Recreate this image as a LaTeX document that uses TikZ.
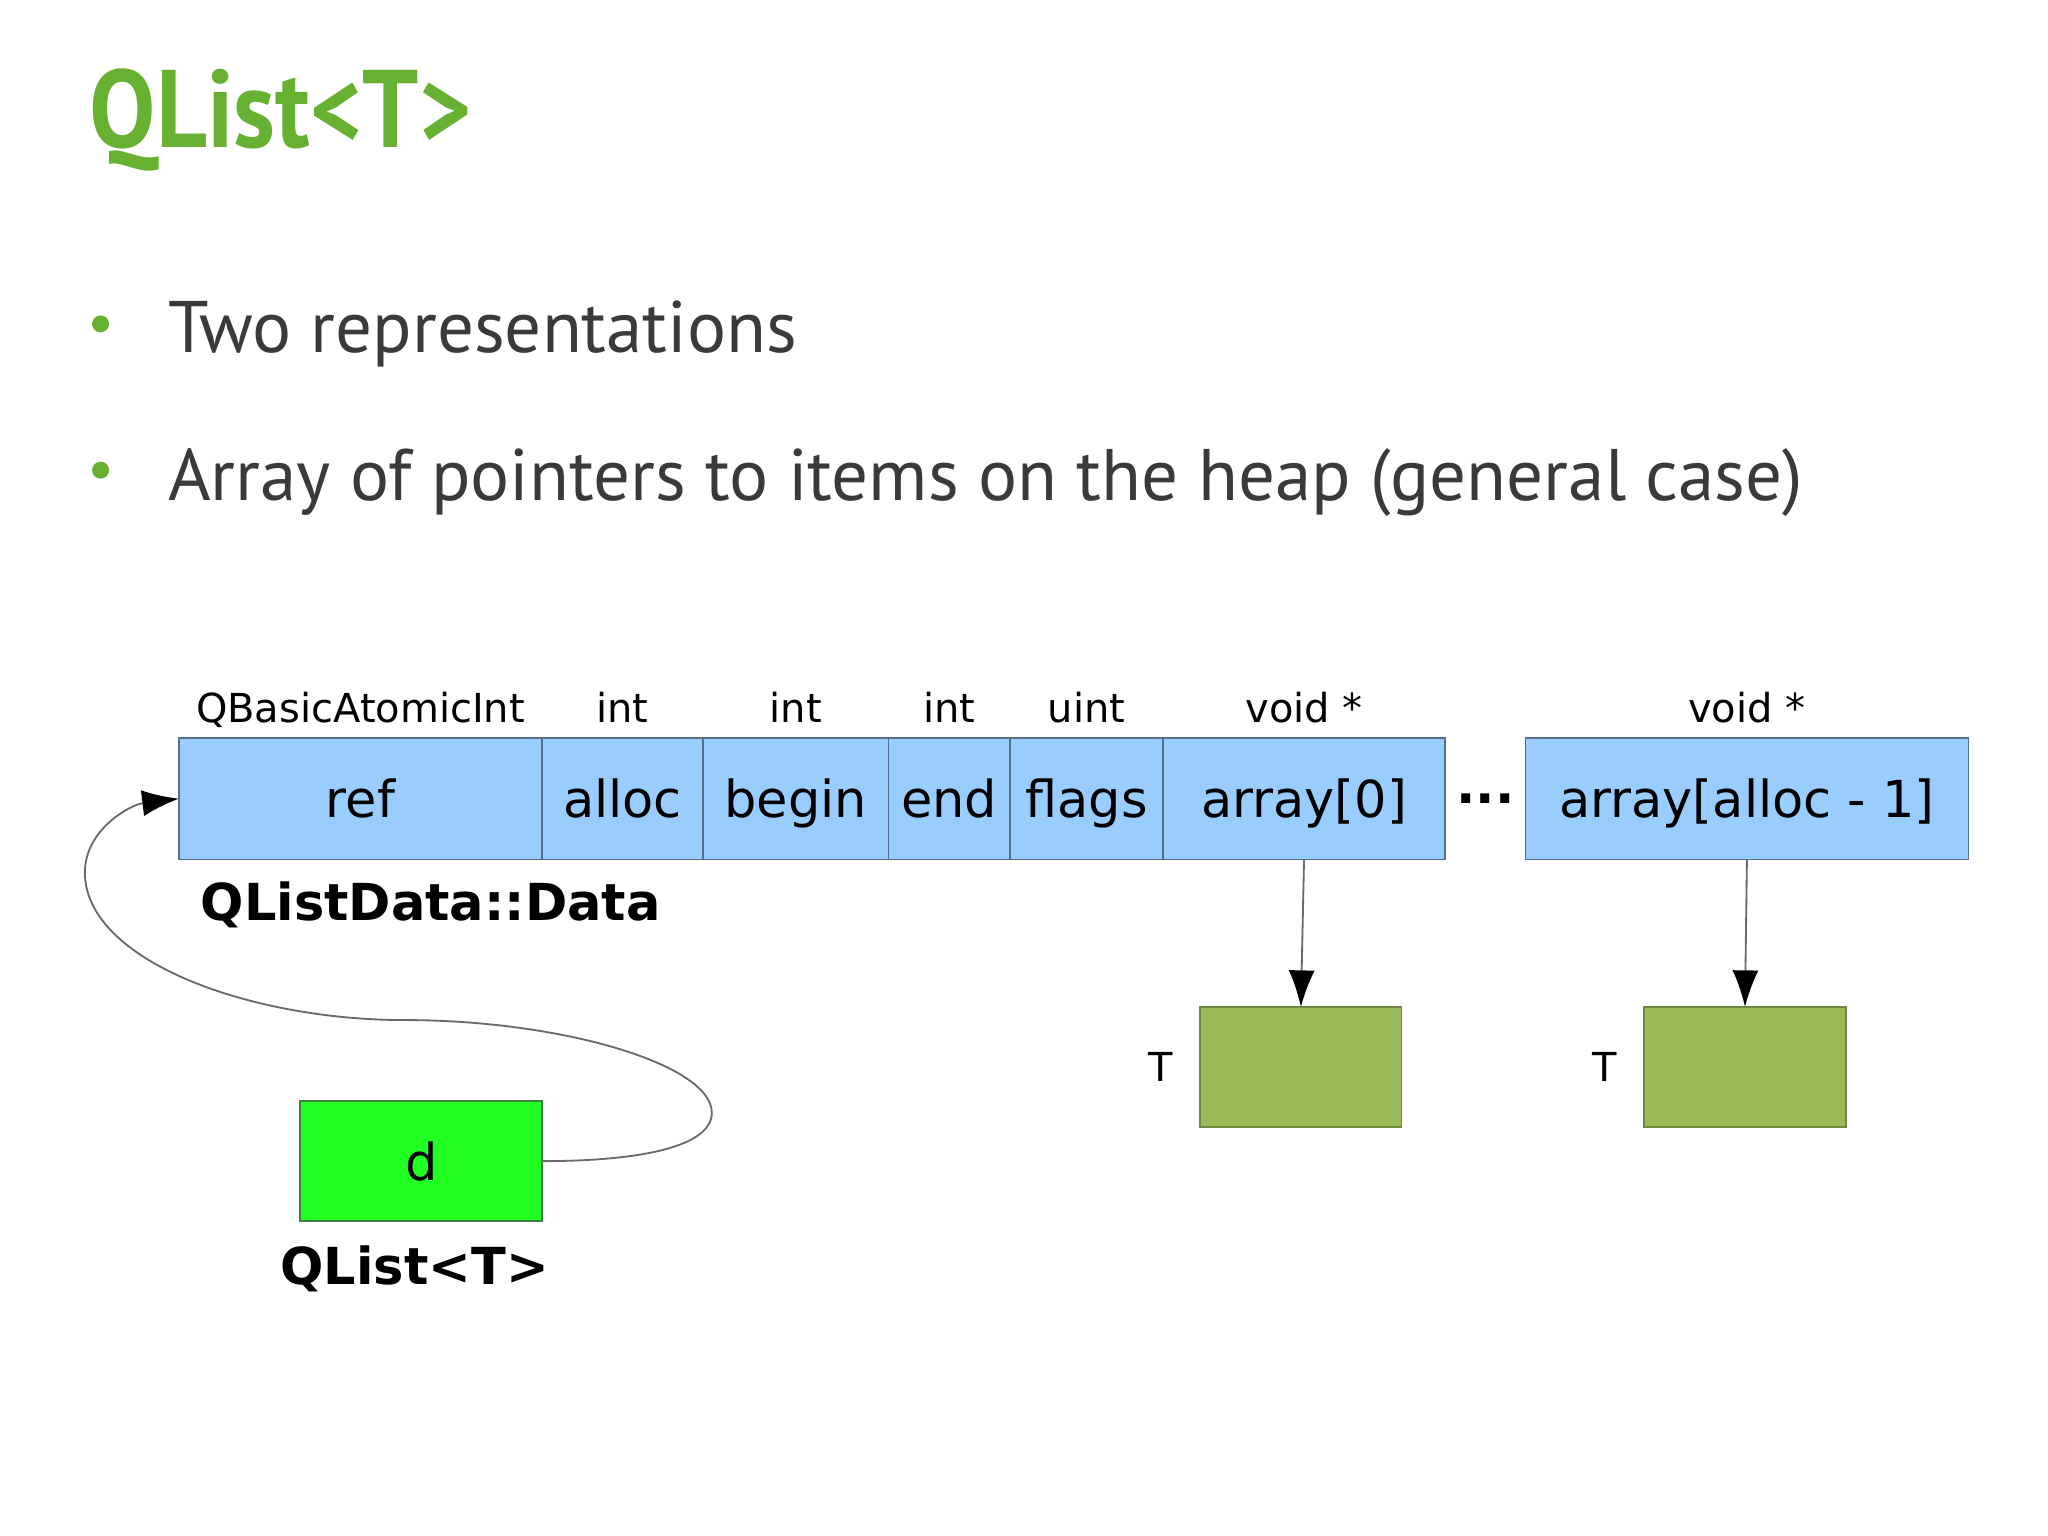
\documentclass[tikz,border=0pt]{standalone}
\usepackage{fontspec}
\setmainfont{DejaVu Sans}
\newfontfamily\slidefont{PT Sans}
\usepackage{tikz}
\usepackage{xcolor}
\usetikzlibrary{arrows.meta,positioning,calc}
\definecolor{qtgreen}{HTML}{66B032}
\definecolor{slidetext}{HTML}{3A3A3A}
\definecolor{cellblue}{HTML}{99CCFF}
\definecolor{cellline}{HTML}{56708C}
\definecolor{tgreen}{HTML}{9BBB59}
\definecolor{tline}{HTML}{6F8A40}
\definecolor{dgreen}{HTML}{22FF22}
\definecolor{dline}{HTML}{3F7F3F}
\definecolor{linegray}{HTML}{6A6A6A}
\tikzset{
  cell/.style={draw=cellline, fill=cellblue, line width=0.4pt, minimum height=0.93cm,
               inner sep=0pt, outer sep=0pt, text height=0.9em, text depth=0.1em,
               font=\fontsize{11.1}{13}\selectfont},
  typelab/.style={font=\fontsize{8.7}{10}\selectfont, inner sep=0pt, anchor=base},
  structlab/.style={font=\fontsize{11.1}{13}\selectfont\bfseries, inner sep=0pt},
  tbox/.style={draw=tline, fill=tgreen, line width=0.4pt, minimum width=1.54cm,
               minimum height=0.92cm, inner sep=0pt, outer sep=0pt},
  ptr/.style={draw=linegray, line width=0.4pt, -{Latex[length=0.28cm,width=0.2cm,color=black]}},
  dot/.style={circle, fill=qtgreen, minimum size=0.13cm, inner sep=0pt},
  itemtext/.style={font=\slidefont\fontsize{15.9}{18}\selectfont, text=slidetext,
                   inner sep=0pt, anchor=base west}
}

\begin{document}
\begin{tikzpicture}[x=0.01cm,y=-0.01cm]
        \useasboundingbox[fill=white] (0,0) rectangle (1568,1176);

        % slide title and bullets
        \node[anchor=base west, inner sep=0pt, text=qtgreen,
              font=\slidefont\fontsize{24}{28}\selectfont\bfseries] (title) at (68,113)
          {\scalebox{0.9}[1]{QList<T>}};
        \node[dot] (dot1) at (77,248) {};
        \node[itemtext] (item1) at (128,270) {Two representations};
        \node[dot] (dot2) at (77,360) {};
        \node[itemtext] (item2) at (128,383) {Array of pointers to items on the heap (general case)};

        % QListData::Data block
        \node[cell, minimum width=2.78cm] (ref) at (276,611.5) {ref};
        \node[cell, minimum width=1.23cm, right=0pt of ref] (alloc) {alloc};
        \node[cell, minimum width=1.42cm, right=0pt of alloc] (begin) {begin};
        \node[cell, minimum width=0.93cm, right=0pt of begin] (end) {end};
        \node[cell, minimum width=1.17cm, right=0pt of end] (flags) {flags};
        \node[cell, minimum width=2.16cm, right=0pt of flags] (arr0) {array[0]};
        \node[cell, minimum width=3.39cm] (arrN) at (1337.5,611.5) {array[alloc - 1]};
        \node[font=\fontsize{11.1}{13}\selectfont\bfseries, inner sep=0pt] (dots)
          at ($(arr0.east)!0.5!(arrN.west)$) {...};

        \foreach \c/\t in {ref/QBasicAtomicInt,alloc/int,begin/int,end/int,flags/uint,arr0/void *,arrN/void *}
          {\node[typelab] (lab-\c) at ([yshift=0.12cm]\c.north) {\t};}

        \node[structlab, anchor=base west] (datalab) at (153,705) {QListData::Data};

        % items on the heap
        \node[tbox] (t0) at (996,817) {};
        \node[tbox] (t1) at (1336,817) {};
        \node[typelab, anchor=east] (tlab0) at ([xshift=-0.2cm]t0.west) {T};
        \node[typelab, anchor=east] (tlab1) at ([xshift=-0.2cm]t1.west) {T};
        \draw[ptr] (arr0.south) -- (t0.north);
        \draw[ptr] (arrN.south) -- (t1.north);

        % the QList itself
        \node[draw=dline, fill=dgreen, line width=0.4pt, minimum width=1.85cm, minimum height=0.92cm,
              inner sep=0pt, outer sep=0pt, font=\fontsize{11.1}{13}\selectfont] (d) at (322.5,889) {d};
        \node[structlab, below=0.18cm of d, xshift=-0.05cm] (listlab) {QList<T>};
        \draw[ptr] (d.east) .. controls (490,889) and (545,878) .. (545,852)
          .. controls (545,815) and (430,781) .. (310,781)
          .. controls (190,781) and (65,735) .. (65,668)
          .. controls (65,635) and (100,616) .. (ref.west);
      \end{tikzpicture}
\end{document}
